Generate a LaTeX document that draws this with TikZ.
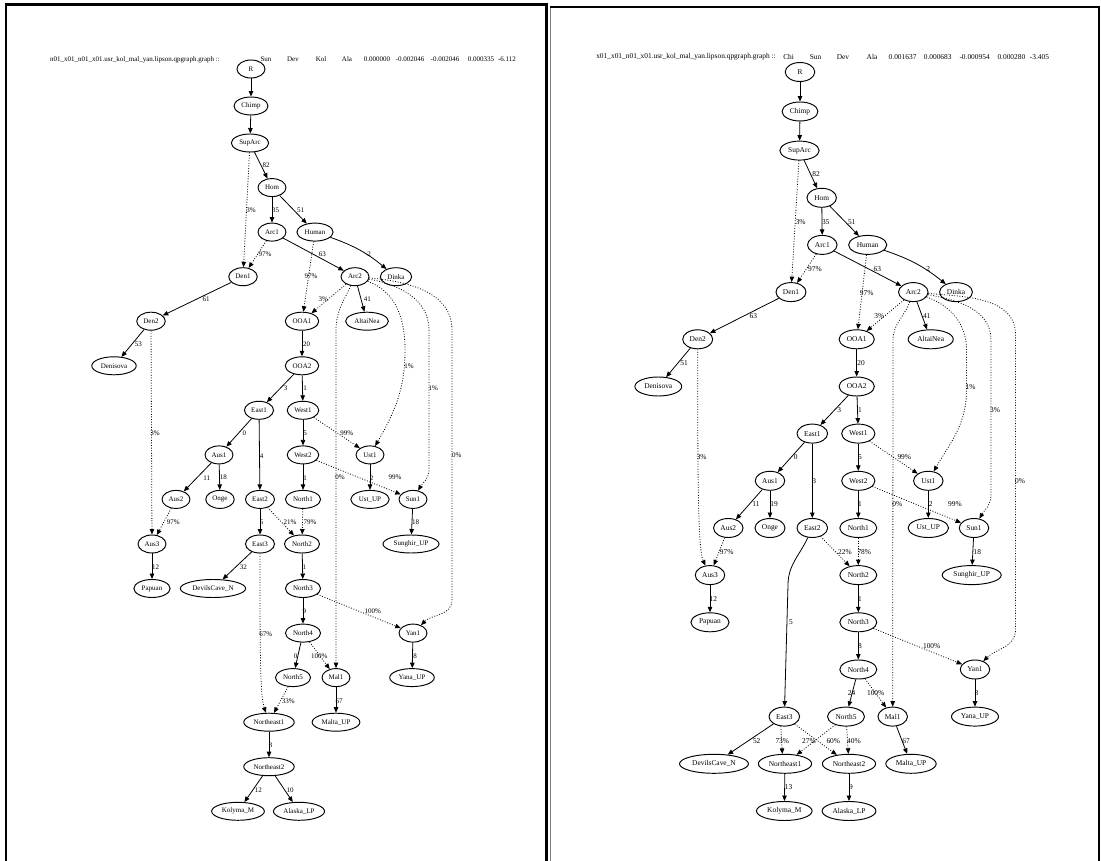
\documentclass[tikz,border=0pt]{standalone}
\usepackage{fontspec}
\setmainfont{Liberation Serif}
\usetikzlibrary{arrows.meta,shapes.geometric}
\begin{document}
\begin{tikzpicture}[x=1pt,y=-1pt,
  nd/.style={ellipse,draw,line width=0.95pt,inner xsep=2.5pt,inner ysep=1pt,minimum width=28pt,minimum height=18pt,font=\fontsize{7}{8}\selectfont},
  ndb/.style={nd,minimum width=29.5pt,minimum height=19pt,inner xsep=2.6pt,font=\fontsize{7.4}{8.5}\selectfont},
  ed/.style={line width=0.8pt,-{Triangle[length=5.5pt,width=4.5pt]}},
  dt/.style={ed,dash pattern=on 0.9pt off 1.7pt},
  lb/.style={inner sep=0pt,font=\fontsize{7}{8}\selectfont},
  lbb/.style={inner sep=0pt,font=\fontsize{7.4}{8.5}\selectfont}]
\useasboundingbox (0,0) rectangle (1101,861);
% panel frames
\draw[line width=2.2pt] (6,861) -- (6,4.5) -- (546.5,4.5) -- (546.5,861);
\draw[line width=1pt,gray] (550.5,861) -- (550.5,7);
\draw[line width=2pt] (550,7) -- (1098.5,7) -- (1098.5,861);

% ---------------- LEFT PANEL ----------------
\node[lb] (aT0) at (135,59.5) {n01\_x01\_n01\_x01.usr\_kol\_mal\_yan.lipson.qpgraph.graph ::};
\node[lb] (aT1) at (266,59.5) {Sun};
\node[lb] (aT2) at (293,59.5) {Dev};
\node[lb] (aT3) at (321,59.5) {Kol};
\node[lb] (aT4) at (347,59.5) {Ala};
\node[lb] (aT5) at (377,59.5) {0.000000};
\node[lb] (aT6) at (410,59.5) {-0.002046};
\node[lb] (aT7) at (445,59.5) {-0.002046};
\node[lb] (aT8) at (481,59.5) {0.000335};
\node[lb] (aT9) at (507,59.5) {-6.112};

\node[nd] (aR) at (251,69) {R};
\node[nd] (aChimp) at (251,106) {Chimp};
\node[nd] (aSupArc) at (250,143) {SupArc};
\node[nd] (aHom) at (272,187.6) {Hom};
\node[nd] (aArc1) at (272,232.1) {Arc1};
\node[nd] (aHuman) at (315,232.1) {Human};
\node[nd] (aDen1) at (243,276.7) {Den1};
\node[nd] (aArc2) at (355,276.7) {Arc2};
\node[nd] (aDinka) at (396,276.7) {Dinka};
\node[nd] (aDen2) at (151,321.2) {Den2};
\node[nd] (aOOA1) at (302,321.2) {OOA1};
\node[nd] (aAltaiNea) at (367,321.2) {AltaiNea};
\node[nd] (aDenisova) at (114,365.8) {Denisova};
\node[nd] (aOOA2) at (302,365.8) {OOA2};
\node[nd] (aEast1) at (259,410.3) {East1};
\node[nd] (aWest1) at (303,410.3) {West1};
\node[nd] (aAus1) at (219,454.9) {Aus1};
\node[nd] (aWest2) at (303,454.9) {West2};
\node[nd] (aUst1) at (370,454.9) {Ust1};
\node[nd] (aAus2) at (176,499.4) {Aus2};
\node[nd] (aOnge) at (220,499.4) {Onge};
\node[nd] (aEast2) at (260,499.4) {East2};
\node[nd] (aNorth1) at (303,499.4) {North1};
\node[nd] (aUstUP) at (370,499.4) {Ust\_UP};
\node[nd] (aSun1) at (413,499.4) {Sun1};
\node[nd] (aAus3) at (152,544) {Aus3};
\node[nd] (aEast3) at (260,544) {East3};
\node[nd] (aNorth2) at (302,544) {North2};
\node[nd] (aSunghirUP) at (411,544) {Sunghir\_UP};
\node[nd] (aPapuan) at (152,588.5) {Papuan};
\node[nd] (aDevilsCaveN) at (213,588.5) {DevilsCave\_N};
\node[nd] (aNorth3) at (303,588.5) {North3};
\node[nd] (aNorth4) at (303,633.1) {North4};
\node[nd] (aYan1) at (413,633.1) {Yan1};
\node[nd] (aNorth5) at (293,677.6) {North5};
\node[nd] (aMal1) at (336,677.6) {Mal1};
\node[nd] (aYanaUP) at (412,677.6) {Yana\_UP};
\node[nd] (aNortheast1) at (269,722.2) {Northeast1};
\node[nd] (aMaltaUP) at (336,722.2) {Malta\_UP};
\node[nd] (aNortheast2) at (269,766.7) {Northeast2};
\node[nd] (aKolymaM) at (238,811.3) {Kolyma\_M};
\node[nd] (aAlaskaLP) at (299,811.3) {Alaska\_LP};

\draw[ed] (aR) -- (aChimp);
\draw[ed] (aChimp) -- (aSupArc);
\draw[ed] (aSupArc) -- (aHom) node[lb] at (266,165.7) {82};
\draw[dt] (aSupArc) -- (aDen1) node[lb] at (251,210) {3\%};
\draw[ed] (aHom) -- (aArc1) node[lb] at (275.5,210) {35};
\draw[ed] (aHom) -- (aHuman) node[lb] at (300.7,210) {51};
\draw[dt] (aArc1) -- (aDen1) node[lb] at (265,254.3) {97\%};
\draw[ed] (aArc1) -- (aArc2) node[lb] at (322.3,254.3) {63};
\draw[ed] (aHuman) to[bend left=10] (aDinka) node[lb] at (369,254.3) {2};
\draw[dt] (aHuman) -- (aOOA1) node[lb] at (311,276.7) {97\%};
\draw[dt] (aArc2) -- (aOOA1) node[lb] at (323.3,299) {3\%};
\draw[ed] (aArc2) -- (aAltaiNea) node[lb] at (367.3,299) {41};
\draw[ed] (aDen1) -- (aDen2) node[lb] at (206,299.3) {61};
\draw[ed] (aDen2) -- (aDenisova) node[lb] at (138.3,344) {53};
\draw[dt] (aDen2) -- (aAus3) node[lb] at (155,433.3) {3\%};
\draw[ed] (aOOA1) -- (aOOA2) node[lb] at (306.5,344) {20};
\draw[ed] (aOOA2) -- (aEast1) node[lb] at (285.7,388.3) {3};
\draw[ed] (aOOA2) -- (aWest1) node[lb] at (305,388.3) {1};
\draw[ed] (aEast1) -- (aAus1) node[lb] at (244.3,433.3) {0};
\draw[ed] (aEast1) -- (aEast2) node[lb] at (261.7,455.7) {4};
\draw[ed] (aAus1) -- (aAus2) node[lb] at (206.7,477.7) {11};
\draw[ed] (aAus1) -- (aOnge) node[lb] at (223.3,477.7) {18};
\draw[dt] (aAus2) -- (aAus3) node[lb] at (173.3,522.3) {97\%};
\draw[ed] (aAus3) -- (aPapuan) node[lb] at (155.7,567.3) {12};
\draw[ed] (aWest1) -- (aWest2) node[lb] at (305,433.3) {5};
\draw[dt] (aWest1) -- (aUst1) node[lb] at (346.7,433.3) {99\%};
\draw[ed] (aWest2) -- (aNorth1) node[lb] at (305,477.7) {1};
\draw[dt] (aWest2) -- (aSun1) node[lb] at (395,477.7) {99\%};
\draw[ed] (aUst1) -- (aUstUP) node[lb] at (371.7,477.7) {2};
\draw[ed] (aSun1) -- (aSunghirUP) node[lb] at (415.7,522.3) {18};
\draw[ed] (aEast2) -- (aEast3) node[lb] at (261.7,522.3) {5};
\draw[dt] (aEast2) -- (aNorth2) node[lb] at (290,522.3) {21\%};
\draw[dt] (aNorth1) -- (aNorth2) node[lb] at (310,522.3) {79\%};
\draw[ed] (aEast3) -- (aDevilsCaveN) node[lb] at (243.3,567) {32};
\draw[dt] (aEast3) .. controls (260,650) and (260,695) .. (aNortheast1) node[lb] at (265.7,634) {67\%};
\draw[ed] (aNorth2) -- (aNorth3) node[lb] at (304.3,566.7) {1};
\draw[dt] (aNorth3) -- (aYan1) node[lb] at (372.7,611.7) {100\%};
\draw[ed] (aNorth3) -- (aNorth4) node[lb] at (304.3,611.7) {9};
\draw[ed] (aNorth4) -- (aNorth5) node[lb] at (295.7,656.7) {0};
\draw[dt] (aNorth4) -- (aMal1) node[lb] at (319.3,656.7) {100\%};
\draw[ed] (aYan1) -- (aYanaUP) node[lb] at (415,656.7) {8};
\draw[dt] (aNorth5) -- (aNortheast1) node[lb] at (288.3,701) {33\%};
\draw[ed] (aMal1) -- (aMaltaUP) node[lb] at (339,701) {67};
\draw[ed] (aNortheast1) -- (aNortheast2) node[lb] at (270.5,745.7) {3};
\draw[ed] (aNortheast2) -- (aKolymaM) node[lb] at (258.3,790) {12};
\draw[ed] (aNortheast2) -- (aAlaskaLP) node[lb] at (290,790) {10};
\draw[dt] (aArc2) to[out=-115,in=90] (336,330) -- (aMal1) node[lb] at (340,477.7) {0\%};
\draw[dt] (aArc2) to[out=-20,in=90] (405,350) to[out=-90,in=60] (aUst1) node[lb] at (409,366) {1\%};
\draw[dt] (aArc2) to[out=-10,in=90] (429,330) -- (429,470) to[out=-90,in=60] (aSun1) node[lb] at (433.3,388.3) {1\%};
\draw[dt] (aArc2) to[out=-5,in=90] (452,330) -- (452,600) to[out=-90,in=45] (aYan1) node[lb] at (456.7,455.7) {0\%};

% ---------------- RIGHT PANEL ----------------
\node[lbb] (bT0) at (686,57) {x01\_x01\_n01\_x01.usr\_kol\_mal\_yan.lipson.qpgraph.graph ::};
\node[lbb] (bT1) at (788.6,57) {Chi};
\node[lbb] (bT2) at (815.6,57) {Sun};
\node[lbb] (bT3) at (843,57) {Dev};
\node[lbb] (bT4) at (872,57) {Ala};
\node[lbb] (bT5) at (902.6,57) {0.001637};
\node[lbb] (bT6) at (937.7,57) {0.000683};
\node[lbb] (bT7) at (974.6,57) {-0.000954};
\node[lbb] (bT8) at (1011.4,57) {0.000280};
\node[lbb] (bT9) at (1039.5,57) {-3.405};

\node[ndb] (bR) at (800,72) {R};
\node[ndb] (bChimp) at (800,111.5) {Chimp};
\node[ndb] (bSupArc) at (799.5,150.6) {SupArc};
\node[ndb] (bHom) at (821.7,197.8) {Hom};
\node[ndb] (bArc1) at (822.3,244.9) {Arc1};
\node[ndb] (bHuman) at (867.7,244.9) {Human};
\node[ndb] (bDen1) at (791,292.1) {Den1};
\node[ndb] (bArc2) at (913.3,292.1) {Arc2};
\node[ndb] (bDinka) at (956,292.1) {Dinka};
\node[ndb] (bDen2) at (697.7,339.3) {Den2};
\node[ndb] (bOOA1) at (856.7,339.3) {OOA1};
\node[ndb] (bAltaiNea) at (930.7,339.3) {AltaiNea};
\node[ndb] (bDenisova) at (658.3,386.5) {Denisova};
\node[ndb] (bOOA2) at (856.7,386.5) {OOA2};
\node[ndb] (bEast1) at (812.3,433.6) {East1};
\node[ndb] (bWest1) at (858.3,433.6) {West1};
\node[ndb] (bAus1) at (770,480.8) {Aus1};
\node[ndb] (bWest2) at (858.3,480.8) {West2};
\node[ndb] (bUst1) at (928.3,480.8) {Ust1};
\node[ndb] (bAus2) at (728.3,528) {Aus2};
\node[ndb] (bOnge) at (770,528) {Onge};
\node[ndb] (bEast2) at (812.3,528) {East2};
\node[ndb] (bNorth1) at (858.3,528) {North1};
\node[ndb] (bUstUP) at (928.3,528) {Ust\_UP};
\node[ndb] (bSun1) at (974,528) {Sun1};
\node[ndb] (bAus3) at (710,575.1) {Aus3};
\node[ndb] (bNorth2) at (858.3,575.1) {North2};
\node[ndb] (bSunghirUP) at (971.7,575.1) {Sunghir\_UP};
\node[ndb] (bPapuan) at (710,622.3) {Papuan};
\node[ndb] (bNorth3) at (858.3,622.3) {North3};
\node[ndb] (bNorth4) at (858.3,669.5) {North4};
\node[ndb] (bYan1) at (975,669.5) {Yan1};
\node[ndb] (bEast3) at (784.3,716.6) {East3};
\node[ndb] (bNorth5) at (846,716.6) {North5};
\node[ndb] (bMal1) at (892.7,716.6) {Mal1};
\node[ndb] (bYanaUP) at (975,716.6) {Yana\_UP};
\node[ndb] (bDevilsCaveN) at (714,763.8) {DevilsCave\_N};
\node[ndb] (bNortheast1) at (785,763.8) {Northeast1};
\node[ndb] (bNortheast2) at (849,763.8) {Northeast2};
\node[ndb] (bMaltaUP) at (911,763.8) {Malta\_UP};
\node[ndb] (bKolymaM) at (784.3,811) {Kolyma\_M};
\node[ndb] (bAlaskaLP) at (849,811) {Alaska\_LP};

\draw[ed] (bR) -- (bChimp);
\draw[ed] (bChimp) -- (bSupArc);
\draw[ed] (bSupArc) -- (bHom) node[lbb] at (816,174.3) {82};
\draw[dt] (bSupArc) -- (bDen1) node[lbb] at (800.7,221.7) {3\%};
\draw[ed] (bHom) -- (bArc1) node[lbb] at (825.7,221.7) {35};
\draw[ed] (bHom) -- (bHuman) node[lbb] at (851.7,221.7) {51};
\draw[dt] (bArc1) -- (bDen1) node[lbb] at (815,269) {97\%};
\draw[ed] (bArc1) -- (bArc2) node[lbb] at (877.3,269) {63};
\draw[ed] (bHuman) to[bend left=10] (bDinka) node[lbb] at (928.3,269) {2};
\draw[dt] (bHuman) -- (bOOA1) node[lbb] at (866.7,292.7) {97\%};
\draw[dt] (bArc2) -- (bOOA1) node[lbb] at (879.3,316) {3\%};
\draw[ed] (bArc2) -- (bAltaiNea) node[lbb] at (926.7,316) {41};
\draw[ed] (bDen1) -- (bDen2) node[lbb] at (753.3,316) {63};
\draw[ed] (bDen2) -- (bDenisova) node[lbb] at (684,363.3) {51};
\draw[dt] (bDen2) .. controls (697.7,480) and (698,550) .. (bAus3) node[lbb] at (701.7,457.3) {3\%};
\draw[ed] (bOOA1) -- (bOOA2) node[lbb] at (861,363.3) {20};
\draw[ed] (bOOA2) -- (bEast1) node[lbb] at (839.3,410) {3};
\draw[ed] (bOOA2) -- (bWest1) node[lbb] at (860,410) {1};
\draw[ed] (bEast1) -- (bAus1) node[lbb] at (795.7,457.3) {0};
\draw[ed] (bEast1) -- (bEast2) node[lbb] at (814.3,481) {3};
\draw[ed] (bAus1) -- (bAus2) node[lbb] at (756,504.3) {11};
\draw[ed] (bAus1) -- (bOnge) node[lbb] at (774,504.3) {19};
\draw[dt] (bAus2) -- (bAus3) node[lbb] at (726.7,551.7) {97\%};
\draw[ed] (bAus3) -- (bPapuan) node[lbb] at (713.3,599) {12};
\draw[ed] (bWest1) -- (bWest2) node[lbb] at (860,457.3) {5};
\draw[dt] (bWest1) -- (bUst1) node[lbb] at (904.3,457.3) {99\%};
\draw[ed] (bWest2) -- (bNorth1) node[lbb] at (860,504.3) {1};
\draw[dt] (bWest2) -- (bSun1) node[lbb] at (955,504.3) {99\%};
\draw[ed] (bUst1) -- (bUstUP) node[lbb] at (930.7,504.3) {2};
\draw[ed] (bSun1) -- (bSunghirUP) node[lbb] at (977.3,551.7) {18};
\draw[dt] (bEast2) -- (bNorth2) node[lbb] at (845,551.7) {22\%};
\draw[dt] (bNorth1) -- (bNorth2) node[lbb] at (864.3,551.7) {78\%};
\draw[ed] (bEast2) to[out=-115,in=90] (788,585) -- (bEast3) node[lbb] at (791,622.3) {5};
\draw[ed] (bNorth2) -- (bNorth3) node[lbb] at (860,599) {1};
\draw[dt] (bNorth3) -- (bYan1) node[lbb] at (931.7,646) {100\%};
\draw[ed] (bNorth3) -- (bNorth4) node[lbb] at (860,646) {8};
\draw[ed] (bNorth4) -- (bNorth5) node[lbb] at (851.5,693.3) {24};
\draw[dt] (bNorth4) -- (bMal1) node[lbb] at (875.7,693.3) {100\%};
\draw[ed] (bYan1) -- (bYanaUP) node[lbb] at (976.5,693.3) {8};
\draw[ed] (bMal1) -- (bMaltaUP) node[lbb] at (906,740.7) {67};
\draw[ed] (bEast3) -- (bDevilsCaveN) node[lbb] at (756.7,740.7) {52};
\draw[dt] (bEast3.250) -- (bNortheast1.105) node[lbb] at (782.3,740.7) {73\%};
\draw[dt] (bEast3) -- (bNortheast2) node[lbb] at (833.3,740.7) {60\%};
\draw[dt] (bNorth5) -- (bNortheast1) node[lbb] at (809,740.7) {27\%};
\draw[dt] (bNorth5) -- (bNortheast2) node[lbb] at (854,740.7) {40\%};
\draw[ed] (bNortheast1) -- (bKolymaM) node[lbb] at (788.5,787.3) {13};
\draw[ed] (bNortheast2) -- (bAlaskaLP) node[lbb] at (851,787.3) {9};
\draw[dt] (bArc2) to[out=-110,in=90] (893,340) -- (bMal1) node[lbb] at (897.3,504.3) {0\%};
\draw[dt] (bArc2) to[out=-20,in=90] (966.5,350) -- (966.5,390) to[out=-90,in=60] (bUst1) node[lbb] at (970.7,386.7) {1\%};
\draw[dt] (bArc2) to[out=-10,in=90] (991,340) -- (991,495) to[out=-90,in=60] (bSun1) node[lbb] at (995,410) {3\%};
\draw[dt] (bArc2) to[out=-5,in=90] (1015.5,335) -- (1015.5,630) to[out=-90,in=45] (bYan1) node[lbb] at (1020,481) {0\%};
\end{tikzpicture}
\end{document}
